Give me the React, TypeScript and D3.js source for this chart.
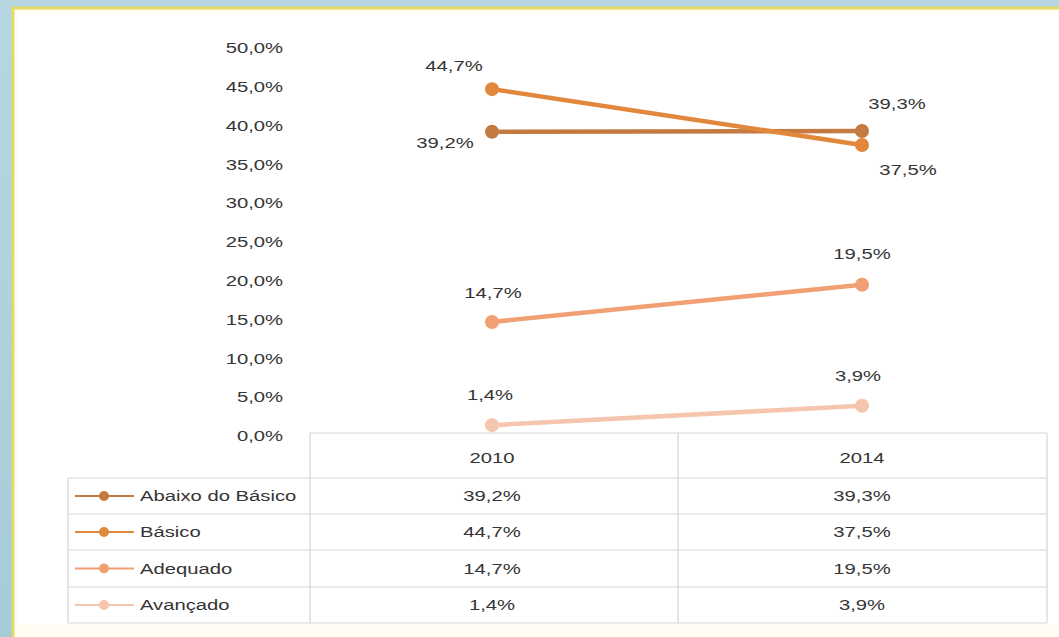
import React from "react";
import * as d3 from "d3";

const years = ["2010", "2014"];
const seriesNames = ["Abaixo do Básico", "Básico", "Adequado", "Avançado"];
const abaixo = [39.2, 39.3];
const basico = [44.7, 37.5];
const adequado = [14.7, 19.5];
const avancado = [1.4, 3.9];
const yTicks = [0, 5, 10, 15, 20, 25, 30, 35, 40, 45, 50];

const seriesValues = [abaixo, basico, adequado, avancado];
const colors = ["#c47a40", "#e2883c", "#f0a072", "#f6c5ad"];
// label offsets (dx, dy) per series per year
const labelOffsets = [
  [[-47, 11], [35, -27]],
  [[-38, -23], [46, 25]],
  [[1, -29], [0, -31]],
  [[-2, -30], [-4, -30]],
];

const fmt = (v: number) => v.toFixed(1).replace(".", ",") + "%";
const font = "'Liberation Sans', Arial, sans-serif";

function Label({ x, y, anchor = "middle", children }: { x: number; y: number; anchor?: string; children: React.ReactNode }) {
  return (
    <text
      transform={`translate(${x},${y}) scale(1.35,1)`}
      dy="0.35em"
      textAnchor={anchor}
      fontFamily={font}
      fontSize={15}
      fill="#353535"
    >
      {children}
    </text>
  );
}

export default function App() {
  const W = 1059, H = 637;
  const y = d3.scaleLinear().domain([0, 50]).range([436, 48]);
  const x = d3.scalePoint().domain(years).range([492, 862]);
  const line = d3.line<number>().x((_, i) => x(years[i])!).y((d) => y(d));
  const tableLeft = 310, tableRight = 1047, legendLeft = 68;
  const headerTop = 433, rowTops = [478, 514, 550, 587], tableBottom = 623;
  const colDiv = 678;
  const rowMid = (i: number) => (rowTops[i] + (i < 3 ? rowTops[i + 1] : tableBottom)) / 2;

  return (
    <svg width={W} height={H} style={{ position: "absolute", left: 0, top: 0 }}>
      <defs>
        <linearGradient id="bg" x1="0" y1="0" x2="0" y2="1">
          <stop offset="0" stopColor="#b6d7e2" />
          <stop offset="1" stopColor="#a6ccd9" />
        </linearGradient>
      </defs>
      <rect x={0} y={0} width={W} height={H} fill="url(#bg)" />
      <rect x={13} y={8} width={W} height={H} fill="#fffdf2" stroke="#e2dc62" strokeWidth={3} />
      <rect x={18} y={13} width={W} height={612} fill="#ffffff" />
      {yTicks.map((t) => (
        <Label key={t} x={283} y={y(t)} anchor="end">
          {fmt(t)}
        </Label>
      ))}
      <g stroke="#d6d6d6" strokeWidth={1.2} fill="none">
        <line x1={tableLeft} y1={headerTop} x2={tableRight} y2={headerTop} />
        <line x1={tableLeft} y1={headerTop} x2={tableLeft} y2={tableBottom} />
        <line x1={colDiv} y1={headerTop} x2={colDiv} y2={tableBottom} />
        <line x1={tableRight} y1={headerTop} x2={tableRight} y2={tableBottom} />
        {rowTops.map((r) => (
          <line key={r} x1={legendLeft} y1={r} x2={tableRight} y2={r} />
        ))}
        <line x1={legendLeft} y1={tableBottom} x2={tableRight} y2={tableBottom} />
        <line x1={legendLeft} y1={rowTops[0]} x2={legendLeft} y2={tableBottom} />
      </g>
      {years.map((yr) => (
        <Label key={yr} x={x(yr)!} y={(headerTop + rowTops[0]) / 2 + 2}>
          {yr}
        </Label>
      ))}
      {seriesNames.map((name, i) => (
        <g key={name}>
          <line x1={75} x2={134} y1={rowMid(i)} y2={rowMid(i)} stroke={colors[i]} strokeWidth={2} />
          <circle cx={104} cy={rowMid(i)} r={5} fill={colors[i]} />
          <Label x={140} y={rowMid(i)} anchor="start">
            {name}
          </Label>
          {years.map((yr, j) => (
            <Label key={yr} x={x(yr)!} y={rowMid(i)}>
              {fmt(seriesValues[i][j])}
            </Label>
          ))}
        </g>
      ))}
      {seriesValues.map((vals, i) => (
        <g key={i}>
          <path d={line(vals)!} fill="none" stroke={colors[i]} strokeWidth={4.5} />
          {vals.map((v, j) => (
            <circle key={j} cx={x(years[j])} cy={y(v)} r={7} fill={colors[i]} />
          ))}
        </g>
      ))}
      {seriesValues.map((vals, i) =>
        vals.map((v, j) => (
          <Label key={i + "-" + j} x={x(years[j])! + labelOffsets[i][j][0]} y={y(v) + labelOffsets[i][j][1]}>
            {fmt(v)}
          </Label>
        ))
      )}
    </svg>
  );
}
